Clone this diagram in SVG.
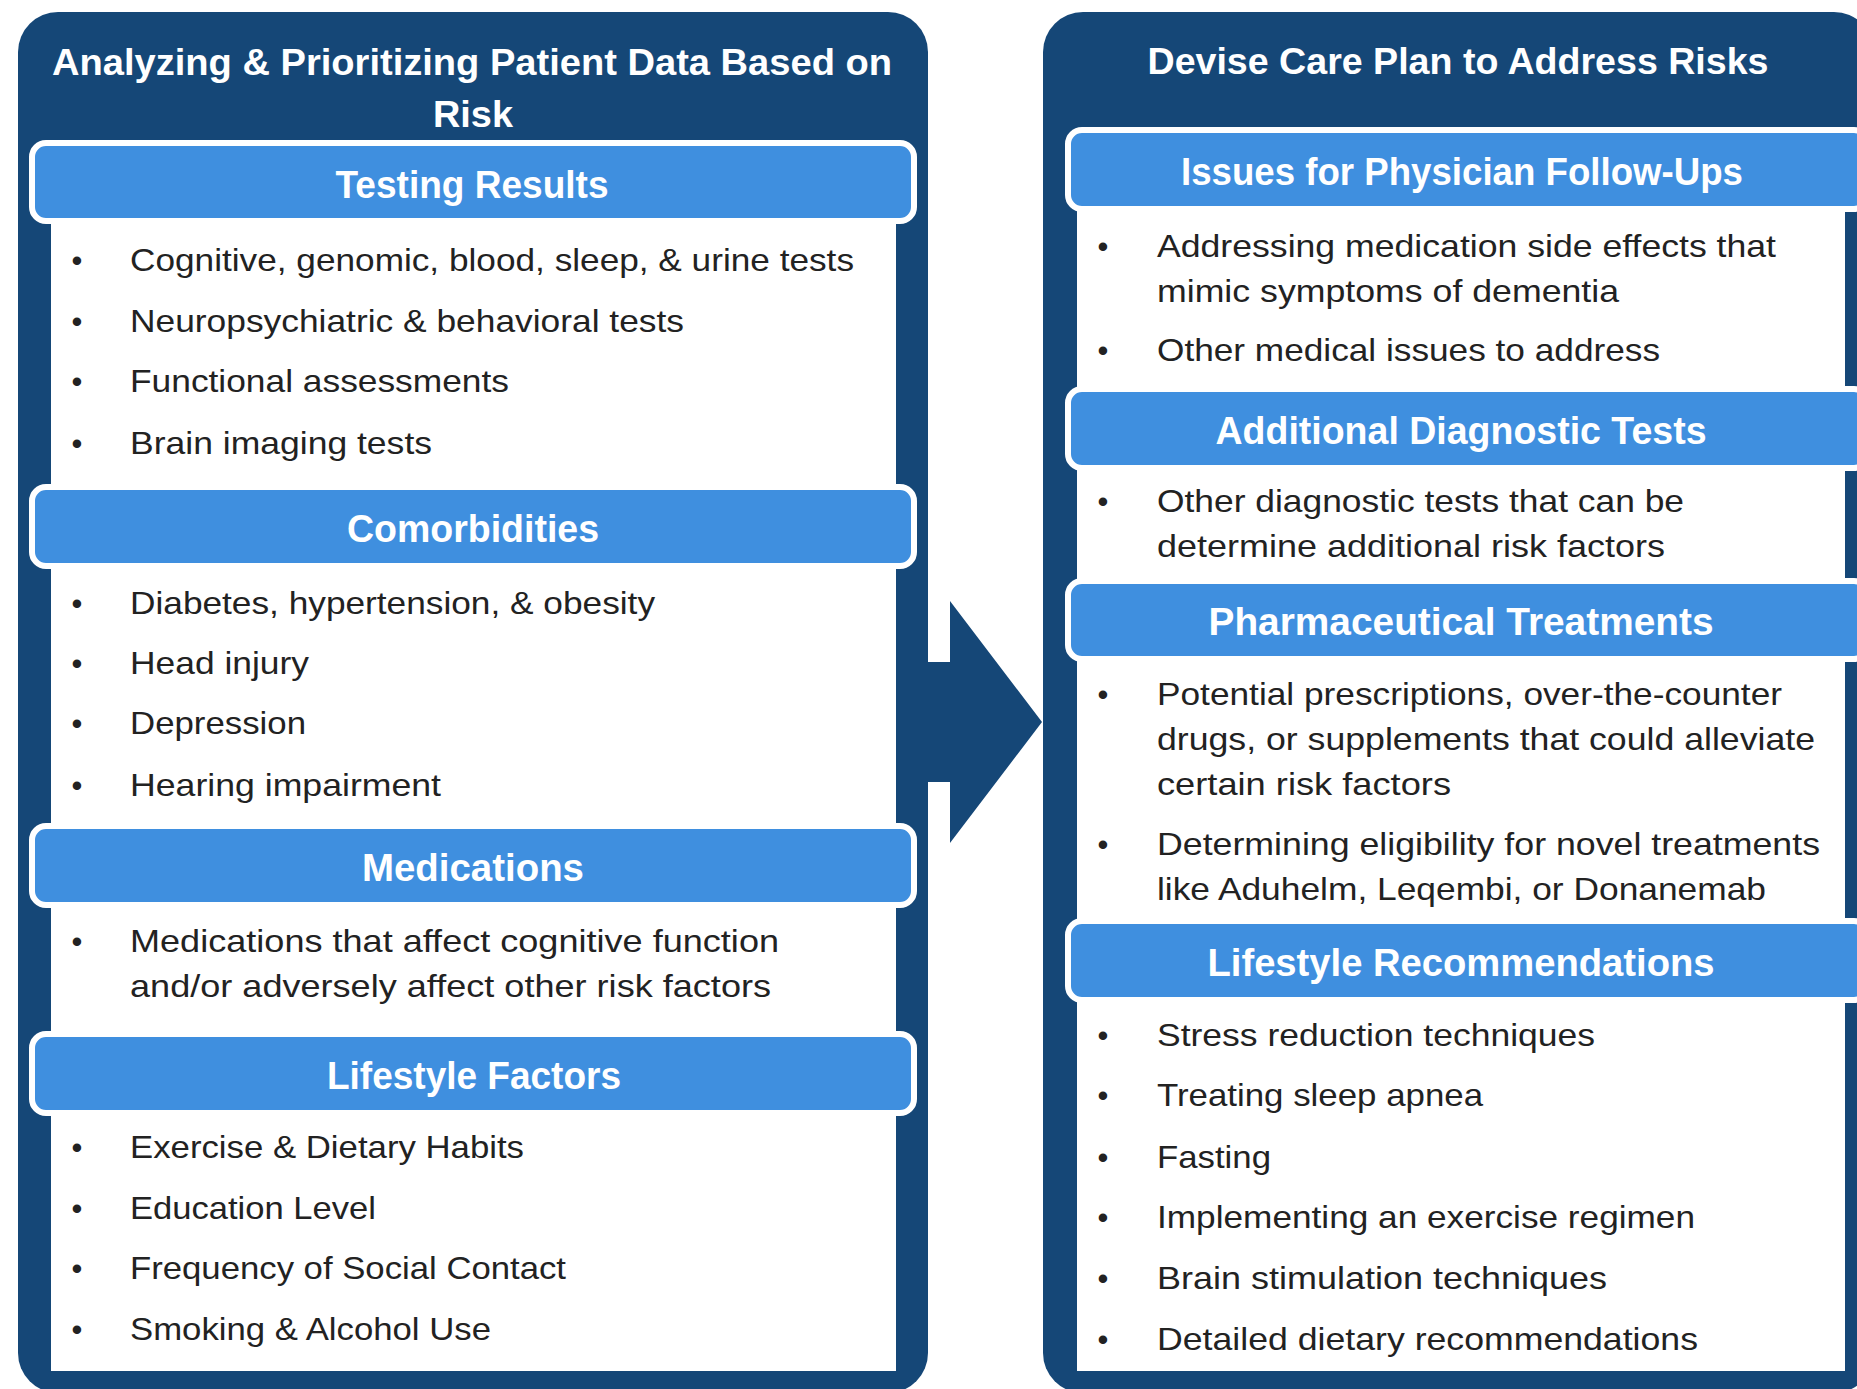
<svg xmlns="http://www.w3.org/2000/svg" width="1857" height="1389" viewBox="0 0 1857 1389">
<style>
.panel{fill:#154777}
.content{fill:#ffffff}
.hdr{fill:#3f8fdf;stroke:#ffffff;stroke-width:6}
.title{font-family:"Liberation Sans",Arial,sans-serif;font-weight:bold;font-size:37px;fill:#ffffff}
.htxt{font-family:"Liberation Sans",Arial,sans-serif;font-weight:bold;font-size:38px;fill:#ffffff;text-anchor:middle}
.body{font-family:"Liberation Sans",Arial,sans-serif;font-size:32px;fill:#222222}
.bul{font-family:"Liberation Sans",Arial,sans-serif;font-size:31px;fill:#222222;text-anchor:middle}
.arrow{fill:#154777}
</style>
<rect width="1857" height="1389" fill="#ffffff"/>

<g id="connectors">
  <polygon class="arrow" points="920,662 950,662 950,601 1042,722 950,843 950,782 920,782"/>
</g>

<g id="left-panel">
  <rect class="panel" x="18" y="12" width="910" height="1381" rx="40"/>
  <rect class="content" x="51" y="200" width="845" height="1171"/>
  <text class="title" x="472" y="75" text-anchor="middle" textLength="840" lengthAdjust="spacingAndGlyphs">Analyzing &amp; Prioritizing Patient Data Based on</text>
  <text class="title" x="473" y="127" text-anchor="middle" textLength="80" lengthAdjust="spacingAndGlyphs">Risk</text>
</g>

<g id="testing-results">
  <rect class="hdr" x="32" y="143" width="882" height="78" rx="14"/>
  <text class="htxt" x="472" y="198" textLength="273" lengthAdjust="spacingAndGlyphs">Testing Results</text>
  <text class="bul" x="77" y="271">•</text><text class="body" x="130" y="271" textLength="724" lengthAdjust="spacingAndGlyphs">Cognitive, genomic, blood, sleep, &amp; urine tests</text>
  <text class="bul" x="77" y="332">•</text><text class="body" x="130" y="332" textLength="554" lengthAdjust="spacingAndGlyphs">Neuropsychiatric &amp; behavioral tests</text>
  <text class="bul" x="77" y="392">•</text><text class="body" x="130" y="392" textLength="379" lengthAdjust="spacingAndGlyphs">Functional assessments</text>
  <text class="bul" x="77" y="454">•</text><text class="body" x="130" y="454" textLength="302" lengthAdjust="spacingAndGlyphs">Brain imaging tests</text>
</g>

<g id="comorbidities">
  <rect class="hdr" x="32" y="487" width="882" height="79" rx="14"/>
  <text class="htxt" x="473" y="542" textLength="252" lengthAdjust="spacingAndGlyphs">Comorbidities</text>
  <text class="bul" x="77" y="614">•</text><text class="body" x="130" y="614" textLength="525" lengthAdjust="spacingAndGlyphs">Diabetes, hypertension, &amp; obesity</text>
  <text class="bul" x="77" y="674">•</text><text class="body" x="130" y="674" textLength="179" lengthAdjust="spacingAndGlyphs">Head injury</text>
  <text class="bul" x="77" y="734">•</text><text class="body" x="130" y="734" textLength="176" lengthAdjust="spacingAndGlyphs">Depression</text>
  <text class="bul" x="77" y="796">•</text><text class="body" x="130" y="796" textLength="311" lengthAdjust="spacingAndGlyphs">Hearing impairment</text>
</g>

<g id="medications">
  <rect class="hdr" x="32" y="826" width="882" height="79" rx="14"/>
  <text class="htxt" x="473" y="881" textLength="222" lengthAdjust="spacingAndGlyphs">Medications</text>
  <text class="bul" x="77" y="952">•</text><text class="body" x="130" y="952" textLength="649" lengthAdjust="spacingAndGlyphs">Medications that affect cognitive function</text>
  <text class="body" x="130" y="997" textLength="641" lengthAdjust="spacingAndGlyphs">and/or adversely affect other risk factors</text>
</g>

<g id="lifestyle-factors">
  <rect class="hdr" x="32" y="1034" width="882" height="79" rx="14"/>
  <text class="htxt" x="474" y="1089" textLength="294" lengthAdjust="spacingAndGlyphs">Lifestyle Factors</text>
  <text class="bul" x="77" y="1158">•</text><text class="body" x="130" y="1158" textLength="394" lengthAdjust="spacingAndGlyphs">Exercise &amp; Dietary Habits</text>
  <text class="bul" x="77" y="1219">•</text><text class="body" x="130" y="1219" textLength="246" lengthAdjust="spacingAndGlyphs">Education Level</text>
  <text class="bul" x="77" y="1279">•</text><text class="body" x="130" y="1279" textLength="436" lengthAdjust="spacingAndGlyphs">Frequency of Social Contact</text>
  <text class="bul" x="77" y="1340">•</text><text class="body" x="130" y="1340" textLength="361" lengthAdjust="spacingAndGlyphs">Smoking &amp; Alcohol Use</text>
</g>

<g id="right-panel">
  <rect class="panel" x="1043" y="12" width="831" height="1381" rx="40"/>
  <rect class="content" x="1077" y="190" width="768" height="1181"/>
  <text class="title" x="1458" y="74" text-anchor="middle" textLength="621" lengthAdjust="spacingAndGlyphs">Devise Care Plan to Address Risks</text>
</g>

<g id="physician-follow-ups">
  <rect class="hdr" x="1068" y="130" width="800" height="79" rx="14"/>
  <text class="htxt" x="1462" y="185" textLength="562" lengthAdjust="spacingAndGlyphs">Issues for Physician Follow-Ups</text>
  <text class="bul" x="1103" y="257">•</text><text class="body" x="1157" y="257" textLength="619" lengthAdjust="spacingAndGlyphs">Addressing medication side effects that</text>
  <text class="body" x="1157" y="302" textLength="462" lengthAdjust="spacingAndGlyphs">mimic symptoms of dementia</text>
  <text class="bul" x="1103" y="361">•</text><text class="body" x="1157" y="361" textLength="503" lengthAdjust="spacingAndGlyphs">Other medical issues to address</text>
</g>

<g id="diagnostic-tests">
  <rect class="hdr" x="1068" y="389" width="800" height="79" rx="14"/>
  <text class="htxt" x="1461" y="444" textLength="491" lengthAdjust="spacingAndGlyphs">Additional Diagnostic Tests</text>
  <text class="bul" x="1103" y="512">•</text><text class="body" x="1157" y="512" textLength="527" lengthAdjust="spacingAndGlyphs">Other diagnostic tests that can be</text>
  <text class="body" x="1157" y="557" textLength="508" lengthAdjust="spacingAndGlyphs">determine additional risk factors</text>
</g>

<g id="pharmaceutical-treatments">
  <rect class="hdr" x="1068" y="581" width="800" height="78" rx="14"/>
  <text class="htxt" x="1461" y="635" textLength="505" lengthAdjust="spacingAndGlyphs">Pharmaceutical Treatments</text>
  <text class="bul" x="1103" y="705">•</text><text class="body" x="1157" y="705" textLength="625" lengthAdjust="spacingAndGlyphs">Potential prescriptions, over-the-counter</text>
  <text class="body" x="1157" y="750" textLength="658" lengthAdjust="spacingAndGlyphs">drugs, or supplements that could alleviate</text>
  <text class="body" x="1157" y="795" textLength="294" lengthAdjust="spacingAndGlyphs">certain risk factors</text>
  <text class="bul" x="1103" y="855">•</text><text class="body" x="1157" y="855" textLength="663" lengthAdjust="spacingAndGlyphs">Determining eligibility for novel treatments</text>
  <text class="body" x="1157" y="900" textLength="609" lengthAdjust="spacingAndGlyphs">like Aduhelm, Leqembi, or Donanemab</text>
</g>

<g id="lifestyle-recommendations">
  <rect class="hdr" x="1068" y="921" width="800" height="79" rx="14"/>
  <text class="htxt" x="1461" y="976" textLength="507" lengthAdjust="spacingAndGlyphs">Lifestyle Recommendations</text>
  <text class="bul" x="1103" y="1046">•</text><text class="body" x="1157" y="1046" textLength="438" lengthAdjust="spacingAndGlyphs">Stress reduction techniques</text>
  <text class="bul" x="1103" y="1106">•</text><text class="body" x="1157" y="1106" textLength="326" lengthAdjust="spacingAndGlyphs">Treating sleep apnea</text>
  <text class="bul" x="1103" y="1168">•</text><text class="body" x="1157" y="1168" textLength="114" lengthAdjust="spacingAndGlyphs">Fasting</text>
  <text class="bul" x="1103" y="1228">•</text><text class="body" x="1157" y="1228" textLength="538" lengthAdjust="spacingAndGlyphs">Implementing an exercise regimen</text>
  <text class="bul" x="1103" y="1289">•</text><text class="body" x="1157" y="1289" textLength="450" lengthAdjust="spacingAndGlyphs">Brain stimulation techniques</text>
  <text class="bul" x="1103" y="1350">•</text><text class="body" x="1157" y="1350" textLength="541" lengthAdjust="spacingAndGlyphs">Detailed dietary recommendations</text>
</g>
</svg>
